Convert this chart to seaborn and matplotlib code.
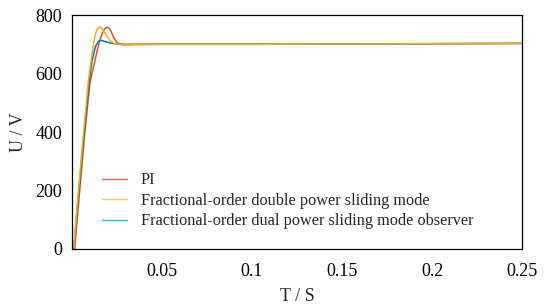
import matplotlib
matplotlib.use("Agg")
import matplotlib.pyplot as plt
import seaborn as sns
import pandas as pd
from matplotlib.lines import Line2D

sns.set_theme(style="white")
plt.rcParams['font.family'] = ['Liberation Serif', 'DejaVu Serif']
plt.rcParams['mathtext.fontset'] = 'stix'

# Data
t_pi = [0, 0.0015, 0.004, 0.007, 0.010, 0.0128, 0.015, 0.017, 0.018, 0.019, 0.020,
        0.021, 0.022, 0.023, 0.025, 0.028, 0.035, 0.05, 0.1, 0.15, 0.2, 0.25]
u_pi = [0, 0, 180, 390, 570, 646, 705, 740, 752, 757, 758,
        752, 740, 725, 706, 698, 699, 700, 700, 701, 702, 703]

t_fo = [0, 0.001, 0.003, 0.006, 0.009, 0.0106, 0.012, 0.013, 0.014, 0.015, 0.0156,
        0.0165, 0.018, 0.020, 0.022, 0.024, 0.028, 0.035, 0.05, 0.1, 0.15, 0.2, 0.25]
u_fo = [0, 0, 160, 370, 570, 646, 705, 735, 752, 758, 759,
        756, 742, 722, 708, 702, 699, 700, 700, 700, 701, 702, 703]

t_obs = [0, 0.001, 0.003, 0.006, 0.009, 0.011, 0.013, 0.0145, 0.0155, 0.0165,
         0.018, 0.021, 0.025, 0.03, 0.05, 0.1, 0.15, 0.2, 0.25]
u_obs = [0, 0, 150, 350, 545, 640, 692, 708, 713, 713,
         710, 705, 701, 700, 700, 700, 701, 702, 703]

labels = ["PI",
          "Fractional-order double power sliding mode",
          "Fractional-order dual power sliding mode observer"]
line_colors = ["#d95319", "#edb120", "#0072bd"]
legend_colors = ["#f06060", "#f0cc70", "#22c0e2"]

x_ticks = [0.05, 0.1, 0.15, 0.2, 0.25]
x_ticklabels = ["0.05", "0.1", "0.15", "0.2", "0.25"]
y_ticks = [0, 200, 400, 600, 800]

fig = plt.figure(figsize=(5.5, 3.07), dpi=100)
ax = fig.add_axes([0.1309, 0.189, 0.8182, 0.762])

series = [(t_pi, u_pi), (t_obs, u_obs), (t_fo, u_fo)]
colors_order = [line_colors[0], line_colors[2], line_colors[1]]
for (t, u), c in zip(series, colors_order):
    df = pd.DataFrame({"t": t, "u": u})
    sns.lineplot(data=df, x="t", y="u", ax=ax, color=c, linewidth=1.1,
                 estimator=None, sort=False)

ax.set_xlim(0, 0.25)
ax.set_ylim(0, 800)
ax.set_xticks(x_ticks)
ax.set_xticklabels(x_ticklabels)
ax.set_yticks(y_ticks)
ax.tick_params(direction="in", length=4, width=0.8, labelsize=13,
               top=False, right=False, colors="black")
ax.tick_params(axis="x", pad=10)
ax.tick_params(axis="y", pad=7)
for s in ax.spines.values():
    s.set_visible(True)
    s.set_color("black")
    s.set_linewidth(0.9)
ax.set_xlabel("T / S", fontsize=13, labelpad=6)
ax.set_ylabel("U / V", fontsize=13, labelpad=6)

handles = [Line2D([0], [0], color=c, lw=1.0) for c in legend_colors]
ax.legend(handles, labels, loc="upper left", bbox_to_anchor=(0.066, 0.328),
          frameon=False, fontsize=11.7, handlelength=1.55, handletextpad=0.85,
          labelspacing=0.28, borderpad=0, borderaxespad=0)

fig.savefig("out.png", dpi=100)
